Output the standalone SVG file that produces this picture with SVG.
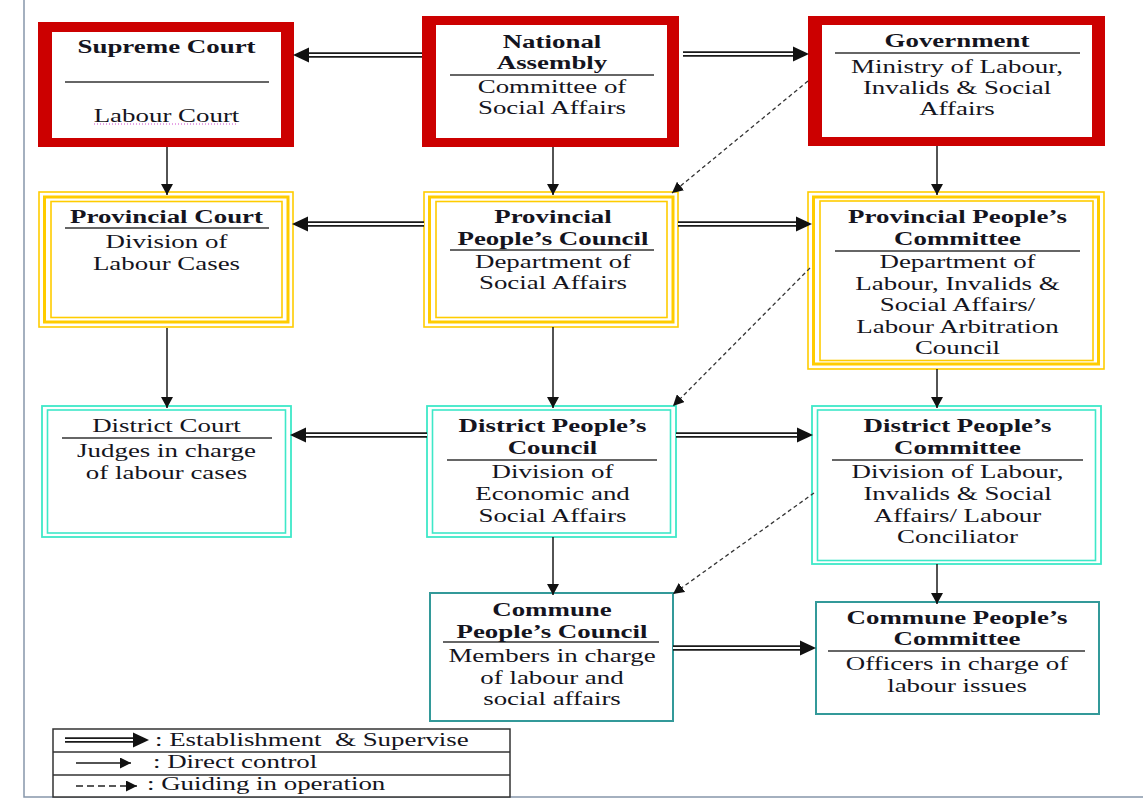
<svg xmlns="http://www.w3.org/2000/svg" width="1143" height="800" viewBox="0 0 1143 800">
  <style>
    .t { font-family: "Liberation Serif", "Times New Roman", serif; font-size: 19.5px; fill: #141420; text-anchor: middle; }
    .b { font-weight: bold; }
    .l { text-anchor: start; white-space: pre; }
    .rule { stroke: #333; stroke-width: 1.5; }
    .red { fill: #cc0000; }
    .white { fill: #fff; }
    .yel1 { fill: none; stroke: #ffcc00; stroke-width: 1.6; }
    .yel2 { fill: none; stroke: #ffcc00; stroke-width: 3; }
    .tq { fill: #fff; stroke: #3ee8c8; stroke-width: 1.8; }
    .tqi { fill: none; stroke: #3ee8c8; stroke-width: 1.6; }
    .teal { fill: #fff; stroke: #339999; stroke-width: 2; }
    .dbl { fill: none; stroke: #1a1a1a; stroke-width: 5.5; }
    .dbl-in { fill: none; stroke: #fff; stroke-width: 1.8; }
    .one { fill: none; stroke: #1a1a1a; stroke-width: 1.5; }
    .dash { fill: none; stroke: #333; stroke-width: 1.3; stroke-dasharray: 4 3; }
    .dash-key { fill: none; stroke: #222; stroke-width: 1.5; stroke-dasharray: 7 4; }
  </style>
  <defs>
    <marker id="bigHead" markerUnits="userSpaceOnUse" markerWidth="16" markerHeight="16" viewBox="0 0 15 14" refX="0" refY="7" orient="auto">
      <path d="M0,0 L15,7 L0,14 z" fill="#111"/>
    </marker>
    <marker id="head" markerUnits="userSpaceOnUse" markerWidth="12" markerHeight="12" viewBox="0 0 10 11" refX="10" refY="5.5" orient="auto">
      <path d="M0,0 L10,5.5 L0,11 z" fill="#111"/>
    </marker>
    <marker id="smallHead" markerUnits="userSpaceOnUse" markerWidth="11" markerHeight="11" viewBox="0 0 9 9" refX="9" refY="4.5" orient="auto">
      <path d="M0,0 L9,4.5 L0,9 z" fill="#111"/>
    </marker>
  </defs>

  <rect x="0" y="0" width="1143" height="800" fill="#fff"/>
  <!-- page frame -->
  <path d="M24,0 V797 H1143" fill="none" stroke="#8796ab" stroke-width="1.5"/>

  <!-- ===== national level ===== -->
  <g id="supreme-court">
    <rect class="red" x="38" y="22" width="256" height="125"/>
    <rect class="white" x="52" y="32" width="229" height="106"/>
    <line class="rule" x1="65" y1="82" x2="269" y2="82"/>
    <line x1="94" y1="124" x2="238" y2="124" stroke="#cc44cc" stroke-width="1" stroke-dasharray="1 2"/>
    <g transform="translate(166.5 0) scale(1.38 1)">
      <text class="t b" x="0" y="53">Supreme Court</text>
      <text class="t" x="0" y="122">Labour Court</text>
    </g>
  </g>

  <g id="national-assembly">
    <rect class="red" x="422" y="16" width="257" height="131"/>
    <rect class="white" x="436" y="25" width="231" height="113"/>
    <line class="rule" x1="450" y1="75" x2="654" y2="75"/>
    <g transform="translate(552 0) scale(1.38 1)">
      <text class="t b" x="0" y="48">National</text>
      <text class="t b" x="0" y="69">Assembly</text>
      <text class="t" x="0" y="93">Committee of</text>
      <text class="t" x="0" y="114">Social Affairs</text>
    </g>
  </g>

  <g id="government">
    <rect class="red" x="808" y="16" width="297" height="130"/>
    <rect class="white" x="822" y="25" width="270" height="112"/>
    <line class="rule" x1="835" y1="53" x2="1080" y2="53"/>
    <g transform="translate(957 0) scale(1.38 1)">
      <text class="t b" x="0" y="47">Government</text>
      <text class="t" x="0" y="73">Ministry of Labour,</text>
      <text class="t" x="0" y="94">Invalids &amp; Social</text>
      <text class="t" x="0" y="115">Affairs</text>
    </g>
  </g>

  <!-- ===== provincial level ===== -->
  <g id="provincial-court">
    <rect class="white" x="39" y="192" width="254" height="135"/>
    <rect class="yel1" x="39" y="192" width="254" height="135"/>
    <rect class="yel2" x="44.5" y="197" width="243.5" height="125"/>
    <rect class="yel1" x="51" y="201.5" width="231" height="116"/>
    <line class="rule" x1="65" y1="228" x2="269" y2="228"/>
    <g transform="translate(166.5 0) scale(1.38 1)">
      <text class="t b" x="0" y="223">Provincial Court</text>
      <text class="t" x="0" y="248">Division of</text>
      <text class="t" x="0" y="270">Labour Cases</text>
    </g>
  </g>

  <g id="provincial-peoples-council">
    <rect class="white" x="424" y="192" width="254" height="135"/>
    <rect class="yel1" x="424" y="192" width="254" height="135"/>
    <rect class="yel2" x="429.5" y="197" width="243.5" height="125"/>
    <rect class="yel1" x="436" y="201.5" width="231" height="116"/>
    <line class="rule" x1="450" y1="250" x2="654" y2="250"/>
    <g transform="translate(553 0) scale(1.38 1)">
      <text class="t b" x="0" y="223">Provincial</text>
      <text class="t b" x="0" y="245">People’s Council</text>
      <text class="t" x="0" y="268">Department of</text>
      <text class="t" x="0" y="289">Social Affairs</text>
    </g>
  </g>

  <g id="provincial-peoples-committee">
    <rect class="white" x="808" y="192" width="296" height="177"/>
    <rect class="yel1" x="808" y="192" width="296" height="177"/>
    <rect class="yel2" x="813.5" y="197" width="285" height="167"/>
    <rect class="yel1" x="820" y="201" width="273" height="159.5"/>
    <line class="rule" x1="835" y1="251" x2="1080" y2="251"/>
    <g transform="translate(957.5 0) scale(1.38 1)">
      <text class="t b" x="0" y="223">Provincial People’s</text>
      <text class="t b" x="0" y="245">Committee</text>
      <text class="t" x="0" y="268">Department of</text>
      <text class="t" x="0" y="290">Labour, Invalids &amp;</text>
      <text class="t" x="0" y="311">Social Affairs/</text>
      <text class="t" x="0" y="333">Labour Arbitration</text>
      <text class="t" x="0" y="354">Council</text>
    </g>
  </g>

  <!-- ===== district level ===== -->
  <g id="district-court">
    <rect class="tq" x="42" y="406" width="249" height="131"/>
    <rect class="tqi" x="47.5" y="410" width="238" height="123"/>
    <line class="rule" x1="62" y1="438" x2="272" y2="438"/>
    <g transform="translate(166.5 0) scale(1.38 1)">
      <text class="t" x="0" y="432">District Court</text>
      <text class="t" x="0" y="457">Judges in charge</text>
      <text class="t" x="0" y="479">of labour cases</text>
    </g>
  </g>

  <g id="district-peoples-council">
    <rect class="tq" x="427" y="406" width="249" height="131"/>
    <rect class="tqi" x="432.5" y="410" width="238" height="123"/>
    <line class="rule" x1="447" y1="460" x2="657" y2="460"/>
    <g transform="translate(552.5 0) scale(1.38 1)">
      <text class="t b" x="0" y="432">District People’s</text>
      <text class="t b" x="0" y="454">Council</text>
      <text class="t" x="0" y="478">Division of</text>
      <text class="t" x="0" y="500">Economic and</text>
      <text class="t" x="0" y="522">Social Affairs</text>
    </g>
  </g>

  <g id="district-peoples-committee">
    <rect class="tq" x="812" y="406" width="289" height="158"/>
    <rect class="tqi" x="817.5" y="410" width="278" height="150.5"/>
    <line class="rule" x1="832" y1="460" x2="1083" y2="460"/>
    <g transform="translate(957.5 0) scale(1.38 1)">
      <text class="t b" x="0" y="432">District People’s</text>
      <text class="t b" x="0" y="454">Committee</text>
      <text class="t" x="0" y="478">Division of Labour,</text>
      <text class="t" x="0" y="500">Invalids &amp; Social</text>
      <text class="t" x="0" y="522">Affairs/ Labour</text>
      <text class="t" x="0" y="543">Conciliator</text>
    </g>
  </g>

  <!-- ===== commune level ===== -->
  <g id="commune-peoples-council">
    <rect class="teal" x="430" y="593" width="243" height="128"/>
    <line class="rule" x1="443" y1="642" x2="659" y2="642"/>
    <g transform="translate(552 0) scale(1.38 1)">
      <text class="t b" x="0" y="616">Commune</text>
      <text class="t b" x="0" y="638">People’s Council</text>
      <text class="t" x="0" y="662">Members in charge</text>
      <text class="t" x="0" y="684">of labour and</text>
      <text class="t" x="0" y="705">social affairs</text>
    </g>
  </g>

  <g id="commune-peoples-committee">
    <rect class="teal" x="816" y="602" width="283" height="112"/>
    <line class="rule" x1="828" y1="651" x2="1085" y2="651"/>
    <g transform="translate(957 0) scale(1.38 1)">
      <text class="t b" x="0" y="624">Commune People’s</text>
      <text class="t b" x="0" y="645">Committee</text>
      <text class="t" x="0" y="670">Officers in charge of</text>
      <text class="t" x="0" y="692">labour issues</text>
    </g>
  </g>

  <!-- ===== connectors ===== -->
  <g id="connectors">
    <!-- establishment & supervise (double line) -->
    <line class="dbl" x1="422" y1="55" x2="309" y2="55" marker-end="url(#bigHead)"/>
    <line class="dbl-in" x1="422" y1="55" x2="309" y2="55"/>
    <line class="dbl" x1="683" y1="54" x2="793" y2="54" marker-end="url(#bigHead)"/>
    <line class="dbl-in" x1="683" y1="54" x2="793" y2="54"/>

    <line class="dbl" x1="424" y1="224" x2="308" y2="224" marker-end="url(#bigHead)"/>
    <line class="dbl-in" x1="424" y1="224" x2="308" y2="224"/>
    <line class="dbl" x1="678" y1="224" x2="796" y2="224" marker-end="url(#bigHead)"/>
    <line class="dbl-in" x1="678" y1="224" x2="796" y2="224"/>

    <line class="dbl" x1="427" y1="435" x2="306" y2="435" marker-end="url(#bigHead)"/>
    <line class="dbl-in" x1="427" y1="435" x2="306" y2="435"/>
    <line class="dbl" x1="676" y1="435" x2="797" y2="435" marker-end="url(#bigHead)"/>
    <line class="dbl-in" x1="676" y1="435" x2="797" y2="435"/>

    <line class="dbl" x1="673" y1="648" x2="800" y2="648" marker-end="url(#bigHead)"/>
    <line class="dbl-in" x1="673" y1="648" x2="800" y2="648"/>

    <!-- direct control -->
    <line class="one" x1="167" y1="147" x2="167" y2="195" marker-end="url(#head)"/>
    <line class="one" x1="553" y1="147" x2="553" y2="195" marker-end="url(#head)"/>
    <line class="one" x1="937" y1="146" x2="937" y2="195" marker-end="url(#head)"/>
    <line class="one" x1="167" y1="328" x2="167" y2="408" marker-end="url(#head)"/>
    <line class="one" x1="553" y1="327" x2="553" y2="408" marker-end="url(#head)"/>
    <line class="one" x1="937" y1="369" x2="937" y2="408" marker-end="url(#head)"/>
    <line class="one" x1="553" y1="537" x2="553" y2="595" marker-end="url(#head)"/>
    <line class="one" x1="937" y1="564" x2="937" y2="604" marker-end="url(#head)"/>

    <!-- guiding in operation -->
    <line class="dash" x1="808" y1="81" x2="672" y2="193" marker-end="url(#smallHead)"/>
    <line class="dash" x1="810" y1="268" x2="673" y2="406" marker-end="url(#smallHead)"/>
    <line class="dash" x1="814" y1="493" x2="673" y2="594" marker-end="url(#smallHead)"/>
  </g>

  <!-- ===== legend ===== -->
  <g id="legend">
    <rect x="53" y="729" width="457" height="68" fill="#fff" stroke="#333" stroke-width="1.5"/>
    <line class="rule" x1="53" y1="752" x2="510" y2="752"/>
    <line class="rule" x1="53" y1="775" x2="510" y2="775"/>
    <line class="dbl" x1="65" y1="740" x2="133" y2="740" marker-end="url(#bigHead)" stroke-width="5"/>
    <line class="dbl-in" x1="65" y1="740" x2="133" y2="740"/>
    <line class="one" x1="76" y1="763" x2="131" y2="763" marker-end="url(#smallHead)"/>
    <line class="dash-key" x1="76" y1="786" x2="137" y2="786" marker-end="url(#smallHead)"/>
    <g transform="translate(155 0) scale(1.38 1)">
      <text class="t l" x="0" y="746">: Establishment  &amp; Supervise</text>
    </g>
    <g transform="translate(153 0) scale(1.38 1)">
      <text class="t l" x="0" y="768">: Direct control</text>
    </g>
    <g transform="translate(147 0) scale(1.38 1)">
      <text class="t l" x="0" y="790">: Guiding in operation</text>
    </g>
  </g>
</svg>
